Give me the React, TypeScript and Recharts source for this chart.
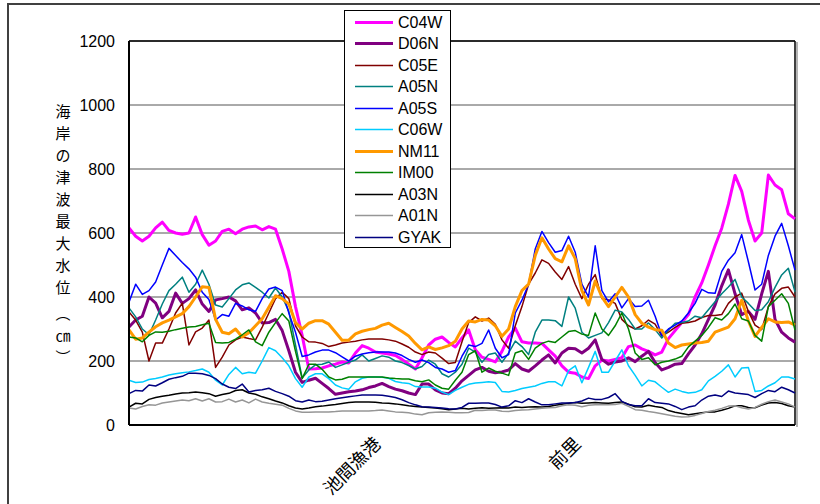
import React from 'react';
import { LineChart, Line, XAxis, YAxis, CartesianGrid, ReferenceLine } from 'recharts';

// 海岸の津波最大水位 (cm) at each coastal point, 101 points along the coast
const c04w = [616, 590, 575, 590, 616, 634, 608, 600, 596, 600, 650, 595, 562, 575, 605, 612, 598, 612, 619, 622, 610, 620, 612, 550, 480, 370, 280, 175, 176, 178, 185, 190, 197, 194, 225, 248, 240, 228, 225, 222, 217, 205, 190, 175, 210, 250, 268, 275, 258, 244, 272, 297, 235, 212, 205, 197, 230, 275, 303, 260, 256, 256, 255, 235, 215, 185, 165, 162, 150, 145, 185, 203, 200, 205, 210, 245, 250, 238, 230, 219, 228, 270, 295, 320, 345, 400, 444, 500, 560, 615, 690, 780, 730, 640, 575, 600, 781, 750, 735, 660, 644];
const d06n = [306, 328, 340, 400, 381, 335, 355, 412, 380, 395, 422, 378, 355, 391, 395, 400, 388, 360, 366, 350, 319, 320, 330, 295, 232, 165, 133, 140, 146, 130, 114, 96, 100, 104, 106, 110, 117, 122, 130, 120, 112, 107, 100, 95, 128, 128, 110, 100, 98, 115, 138, 155, 172, 180, 168, 163, 166, 172, 192, 175, 168, 185, 203, 219, 194, 225, 240, 238, 225, 240, 266, 205, 190, 197, 200, 210, 198, 215, 230, 195, 172, 180, 190, 192, 222, 250, 285, 330, 375, 435, 485, 410, 345, 355, 330, 410, 480, 330, 290, 272, 259];
const c05e = [353, 328, 290, 200, 256, 256, 300, 350, 381, 250, 291, 303, 328, 180, 212, 250, 266, 275, 270, 266, 306, 350, 395, 415, 395, 310, 275, 260, 259, 255, 245, 250, 256, 259, 262, 266, 269, 269, 269, 266, 262, 253, 243, 228, 220, 228, 225, 209, 192, 195, 260, 320, 338, 325, 334, 315, 266, 240, 310, 370, 440, 475, 516, 505, 478, 455, 495, 440, 395, 440, 470, 395, 391, 380, 330, 310, 300, 310, 328, 315, 278, 290, 305, 318, 320, 325, 336, 342, 342, 345, 380, 400, 412, 355, 312, 298, 370, 410, 427, 431, 400];
const a05n = [366, 338, 300, 282, 328, 378, 420, 440, 462, 415, 440, 484, 440, 375, 369, 395, 422, 438, 444, 430, 415, 397, 428, 400, 355, 250, 147, 172, 188, 190, 197, 180, 188, 196, 203, 219, 200, 208, 216, 212, 200, 195, 186, 175, 183, 203, 190, 160, 150, 165, 190, 240, 228, 196, 220, 225, 196, 225, 262, 245, 220, 290, 328, 328, 326, 308, 400, 365, 290, 272, 280, 288, 320, 359, 353, 330, 300, 300, 319, 298, 272, 297, 318, 320, 325, 340, 335, 360, 385, 410, 431, 455, 400, 380, 358, 360, 385, 430, 469, 490, 416];
const a05s = [384, 440, 408, 420, 447, 500, 552, 530, 508, 488, 462, 415, 392, 328, 345, 340, 380, 372, 360, 355, 395, 425, 431, 420, 350, 290, 214, 219, 228, 234, 234, 226, 213, 200, 215, 222, 226, 228, 228, 228, 225, 217, 205, 196, 203, 195, 180, 175, 165, 170, 215, 250, 245, 255, 297, 240, 210, 220, 350, 390, 440, 550, 605, 570, 540, 545, 590, 540, 440, 400, 560, 420, 385, 410, 366, 395, 370, 372, 390, 340, 280, 300, 312, 325, 350, 380, 424, 413, 412, 480, 515, 538, 595, 510, 422, 440, 530, 590, 630, 560, 484];
const c06w = [140, 133, 134, 142, 145, 150, 156, 160, 163, 166, 170, 175, 165, 140, 125, 158, 180, 160, 165, 162, 200, 242, 232, 210, 185, 145, 118, 150, 160, 160, 145, 125, 116, 112, 135, 146, 150, 150, 149, 146, 136, 132, 130, 120, 119, 119, 115, 103, 95, 108, 118, 127, 131, 133, 135, 133, 105, 103, 108, 114, 118, 122, 130, 135, 135, 122, 170, 185, 132, 180, 230, 165, 165, 200, 235, 185, 155, 122, 140, 135, 118, 102, 112, 105, 100, 102, 110, 138, 152, 168, 188, 150, 178, 180, 105, 108, 122, 132, 150, 150, 144];
const nm11 = [297, 268, 272, 290, 307, 319, 328, 338, 348, 370, 400, 432, 430, 330, 290, 285, 300, 275, 288, 310, 332, 368, 404, 395, 378, 320, 300, 318, 326, 326, 315, 290, 265, 265, 285, 293, 298, 302, 312, 318, 305, 292, 278, 255, 235, 244, 236, 241, 248, 262, 300, 325, 322, 330, 328, 310, 277, 300, 370, 420, 440, 530, 585, 550, 520, 510, 560, 520, 420, 375, 450, 400, 370, 400, 430, 400, 345, 318, 306, 298, 296, 256, 242, 250, 253, 256, 258, 262, 290, 298, 306, 332, 390, 325, 277, 305, 332, 322, 320, 322, 312];
const im00 = [275, 272, 260, 280, 291, 290, 293, 298, 302, 306, 308, 313, 318, 258, 256, 258, 268, 282, 297, 260, 248, 290, 320, 348, 325, 230, 145, 190, 190, 174, 150, 141, 143, 150, 150, 150, 150, 150, 150, 147, 145, 144, 144, 138, 135, 141, 125, 115, 112, 140, 165, 220, 232, 165, 178, 168, 162, 155, 225, 232, 205, 240, 255, 262, 258, 275, 292, 295, 284, 280, 350, 300, 280, 310, 350, 300, 225, 205, 210, 188, 196, 200, 206, 215, 244, 262, 280, 305, 335, 328, 348, 378, 332, 325, 280, 262, 370, 390, 410, 380, 297];
const a03n = [56, 68, 66, 80, 86, 90, 93, 97, 100, 101, 103, 101, 98, 90, 95, 99, 108, 110, 100, 96, 88, 82, 75, 69, 60, 53, 50, 53, 57, 59, 62, 64, 67, 70, 72, 72, 72, 71, 69, 68, 66, 63, 60, 58, 56, 55, 53, 51, 48, 50, 52, 50, 52, 54, 52, 53, 54, 53, 56, 55, 56, 57, 56, 58, 62, 65, 68, 70, 68, 69, 70, 69, 68, 70, 72, 65, 57, 56, 62, 58, 55, 45, 40, 36, 32, 35, 38, 41, 41, 46, 52, 60, 60, 55, 54, 62, 69, 70, 67, 60, 56];
const a01n = [53, 50, 58, 63, 62, 69, 72, 75, 78, 76, 82, 75, 82, 72, 73, 81, 72, 78, 69, 81, 72, 68, 65, 62, 52, 44, 40, 40, 41, 41, 41, 42, 44, 44, 44, 44, 44, 45, 47, 44, 41, 40, 38, 34, 32, 38, 40, 41, 40, 38, 38, 39, 46, 45, 47, 47, 43, 42, 45, 47, 48, 50, 52, 54, 55, 60, 63, 62, 57, 62, 63, 63, 63, 64, 68, 58, 48, 46, 42, 39, 35, 31, 27, 25, 26, 30, 36, 42, 46, 52, 59, 60, 54, 50, 55, 65, 73, 78, 72, 66, 56];
const gyak = [98, 108, 106, 125, 122, 132, 143, 148, 152, 162, 162, 160, 155, 145, 128, 118, 114, 128, 103, 108, 110, 115, 105, 98, 90, 76, 72, 78, 73, 74, 78, 82, 85, 88, 91, 94, 94, 94, 93, 90, 86, 79, 70, 63, 57, 56, 55, 53, 51, 50, 55, 68, 68, 69, 69, 64, 56, 60, 76, 70, 82, 72, 63, 63, 66, 69, 69, 70, 75, 84, 80, 80, 86, 98, 74, 64, 60, 60, 82, 70, 68, 66, 58, 48, 56, 60, 78, 90, 94, 89, 106, 100, 98, 95, 86, 98, 108, 104, 118, 110, 100];

const seriesNames = ['C04W', 'D06N', 'C05E', 'A05N', 'A05S', 'C06W', 'NM11', 'IM00', 'A03N', 'A01N', 'GYAK'];
const seriesValues = [c04w, d06n, c05e, a05n, a05s, c06w, nm11, im00, a03n, a01n, gyak];

// labelled points on the coast
const placeIndexes = [38, 68];
const placeNames = ['池間漁港', '前里'];

const yTicks = [0, 200, 400, 600, 800, 1000, 1200];
const yTitle = ['海', '岸', 'の', '津', '波', '最', '大', '水', '位', '︵', '㎝', '︶'];

const colors = ['#ff00ff', '#800080', '#800000', '#008080', '#0000ff', '#00ccff', '#ff9900', '#008000', '#000000', '#969696', '#000080'];
const widths = [3, 3, 1.5, 1.5, 1.5, 1.5, 3, 1.5, 1.5, 1.5, 1.5];

const data = c04w.map((_, i) => {
  const row: Record<string, number> = { idx: i };
  seriesNames.forEach((name, s) => {
    row[name] = seriesValues[s][i];
  });
  return row;
});

const latin = '"Liberation Sans", Arial, sans-serif';
const cjk = '"Noto Sans CJK JP", sans-serif';

const PlaceTick = (props: any) => {
  const { x, y, payload } = props;
  const label = placeNames[placeIndexes.indexOf(payload.value)] || '';
  return (
    <text
      transform={`translate(${x},${y + 12}) rotate(-45)`}
      textAnchor="end"
      fontSize={18}
      fontFamily={cjk}
      fill="#000"
    >
      {label}
    </text>
  );
};

// vertical title, one character per row
const titleY = [110, 132, 154, 176, 198, 220, 242, 264, 286, 312, 334, 356];

export default function App() {
  return (
    <div
      style={{
        position: 'absolute',
        left: 0,
        top: 0,
        width: 820,
        height: 504,
        overflow: 'hidden',
        background: '#fff',
        fontFamily: latin,
      }}
    >
      <div
        style={{
          position: 'absolute',
          left: 7,
          top: 3,
          width: 840,
          height: 540,
          borderLeft: '2px solid #404040',
          borderTop: '2px solid #404040',
        }}
      />
      <div style={{ position: 'absolute', left: 0, top: 0 }}>
        <LineChart width={820} height={504} data={data} margin={{ top: 41, right: 25, left: 0, bottom: 19 }}>
          <CartesianGrid vertical={false} stroke="#555" />
          <XAxis
            dataKey="idx"
            type="number"
            domain={[0, seriesValues[0].length - 1]}
            ticks={placeIndexes}
            interval={0}
            tick={<PlaceTick />}
            tickLine={false}
            axisLine={{ stroke: '#000', strokeWidth: 2 }}
            height={60}
          />
          <YAxis
            type="number"
            domain={[0, 1200]}
            ticks={yTicks}
            interval={0}
            tickLine={false}
            tickMargin={8}
            axisLine={{ stroke: '#000', strokeWidth: 2 }}
            tick={{ fill: '#000', fontSize: 16, fontFamily: latin }}
            width={129}
          />
          <ReferenceLine y={1200} stroke="#000" strokeWidth={1.5} />
          <ReferenceLine x={seriesValues[0].length - 1} stroke="#000" strokeWidth={1.5} />
          {seriesNames.map((name, s) => (
            <Line
              key={name}
              type="linear"
              dataKey={name}
              stroke={colors[s]}
              strokeWidth={widths[s]}
              dot={false}
              activeDot={false}
              strokeLinejoin="round"
              isAnimationActive={false}
            />
          ))}
        </LineChart>
      </div>
      <div style={{ position: 'absolute', left: 796, top: 42, width: 2, height: 385, background: '#b4b4b4' }} />
      <svg style={{ position: 'absolute', left: 0, top: 0 }} width={120} height={400}>
        <text fontSize={15} fontFamily={cjk} fill="#000" textAnchor="middle" dominantBaseline="central">
          {yTitle.map((ch, i) => (
            <tspan key={i} x={63} y={titleY[i]}>
              {ch}
            </tspan>
          ))}
        </text>
      </svg>
      <div
        style={{
          position: 'absolute',
          left: 344,
          top: 10,
          width: 105,
          height: 236,
          border: '1px solid #000',
          background: '#fff',
        }}
      >
        {seriesNames.map((name, s) => (
          <div
            key={name}
            style={{ position: 'absolute', left: 0, top: 1 + s * 21.46, height: 21, display: 'flex', alignItems: 'center' }}
          >
            <svg width={53} height={21}>
              <line x1={10} x2={48} y1={10.5} y2={10.5} stroke={colors[s]} strokeWidth={widths[s]} />
            </svg>
            <span style={{ fontSize: 16, fontFamily: latin, color: '#000', lineHeight: '21px' }}>{name}</span>
          </div>
        ))}
      </div>
    </div>
  );
}
